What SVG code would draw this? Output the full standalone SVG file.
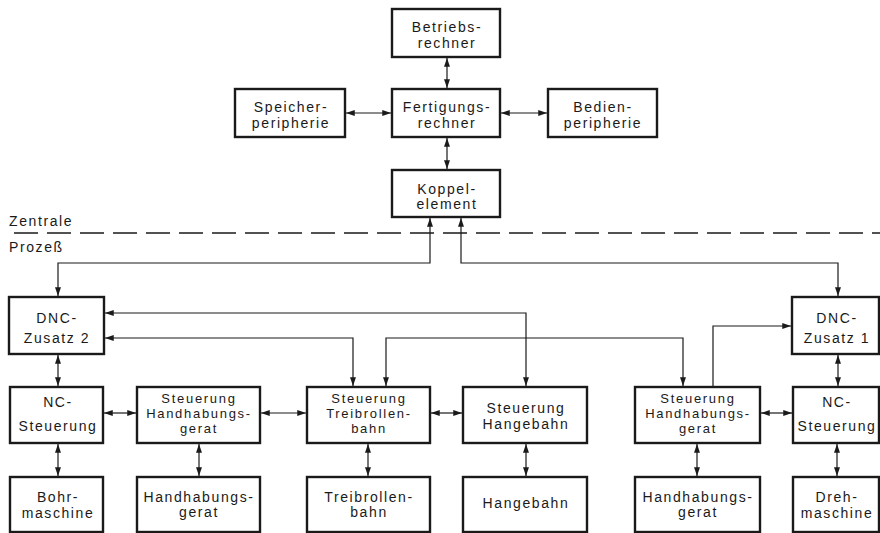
<svg xmlns="http://www.w3.org/2000/svg" width="880" height="533" viewBox="0 0 880 533">
<style>
.box{fill:#fff;stroke:#1a1a1a;stroke-width:2.4}
.t{font-family:"Liberation Sans",Arial,sans-serif;font-size:14px;letter-spacing:1.6px;fill:#1a1a1a;text-anchor:middle}
.t3{font-family:"Liberation Sans",Arial,sans-serif;font-size:13px;letter-spacing:1.7px;fill:#1a1a1a;text-anchor:middle}
.lbl{font-family:"Liberation Sans",Arial,sans-serif;font-size:14px;letter-spacing:1.6px;fill:#1a1a1a}
.c{fill:none;stroke:#1a1a1a;stroke-width:1.2}
.dash{fill:none;stroke:#1a1a1a;stroke-width:1.3;stroke-dasharray:24 9}
</style>
<defs>
<marker id="a" viewBox="0 0 10 8" refX="10" refY="4" markerWidth="9" markerHeight="7" markerUnits="userSpaceOnUse" orient="auto-start-reverse">
<path d="M0,0.6 L10,4 L0,7.4 Z" fill="#1a1a1a"/>
</marker>
</defs>
<rect width="880" height="533" fill="#fff"/>

<path class="dash" d="M14,233 H880"/>
<text class="lbl" x="9" y="226">Zentrale</text>
<text class="lbl" x="9" y="252">Prozeß</text>

<g id="connectors">
<path class="c" d="M447,58 V88" marker-start="url(#a)" marker-end="url(#a)"/>
<path class="c" d="M447,138 V169" marker-start="url(#a)" marker-end="url(#a)"/>
<path class="c" d="M346,113 H391" marker-start="url(#a)" marker-end="url(#a)"/>
<path class="c" d="M501,113 H547" marker-start="url(#a)" marker-end="url(#a)"/>
<path class="c" d="M430,218 V263 H58 V296" marker-start="url(#a)" marker-end="url(#a)"/>
<path class="c" d="M461,218 V263 H838 V296" marker-start="url(#a)" marker-end="url(#a)"/>
<path class="c" d="M105,313 H526 V386" marker-start="url(#a)" marker-end="url(#a)"/>
<path class="c" d="M105,338 H353 V386" marker-start="url(#a)" marker-end="url(#a)"/>
<path class="c" d="M386,386 V338 H683 V386" marker-start="url(#a)" marker-end="url(#a)"/>
<path class="c" d="M713,387 V326 H791" marker-end="url(#a)"/>
<path class="c" d="M58,355 V386" marker-start="url(#a)" marker-end="url(#a)"/>
<path class="c" d="M838,355 V386" marker-start="url(#a)" marker-end="url(#a)"/>
<path class="c" d="M104,413 H136" marker-start="url(#a)" marker-end="url(#a)"/>
<path class="c" d="M261,413 H306" marker-start="url(#a)" marker-end="url(#a)"/>
<path class="c" d="M431,413 H462" marker-start="url(#a)" marker-end="url(#a)"/>
<path class="c" d="M761,413 H792" marker-start="url(#a)" marker-end="url(#a)"/>
<path class="c" d="M58,444 V476" marker-start="url(#a)" marker-end="url(#a)"/>
<path class="c" d="M199,444 V476" marker-start="url(#a)" marker-end="url(#a)"/>
<path class="c" d="M368,444 V476" marker-start="url(#a)" marker-end="url(#a)"/>
<path class="c" d="M526,444 V476" marker-start="url(#a)" marker-end="url(#a)"/>
<path class="c" d="M697,444 V476" marker-start="url(#a)" marker-end="url(#a)"/>
<path class="c" d="M837,444 V476" marker-start="url(#a)" marker-end="url(#a)"/>
</g>

<g id="betriebsrechner"><rect class="box" x="392" y="9" width="108" height="48"/>
<text class="t" x="447" y="32">Betriebs-</text><text class="t" x="447" y="48">rechner</text></g>
<g id="fertigungsrechner"><rect class="box" x="392" y="89" width="108" height="48"/>
<text class="t" x="447" y="112">Fertigungs-</text><text class="t" x="447" y="128">rechner</text></g>
<g id="speicherperipherie"><rect class="box" x="235" y="89" width="110" height="48"/>
<text class="t" x="291" y="112">Speicher-</text><text class="t" x="291" y="128">peripherie</text></g>
<g id="bedienperipherie"><rect class="box" x="548" y="89" width="109" height="48"/>
<text class="t" x="603" y="112">Bedien-</text><text class="t" x="603" y="128">peripherie</text></g>
<g id="koppelelement"><rect class="box" x="392" y="170" width="108" height="47"/>
<text class="t" x="447" y="194">Koppel-</text><text class="t" x="447" y="209">element</text></g>

<g id="dnc2"><rect class="box" x="9" y="297" width="95" height="57"/>
<text class="t" x="57" y="323">DNC-</text><text class="t" x="57" y="343">Zusatz 2</text></g>
<g id="dnc1"><rect class="box" x="792" y="297" width="87" height="57"/>
<text class="t" x="837" y="323">DNC-</text><text class="t" x="837" y="343">Zusatz 1</text></g>

<g id="nc-left"><rect class="box" x="10" y="387" width="93" height="56"/>
<text class="t" x="58" y="407">NC-</text><text class="t" x="58" y="431">Steuerung</text></g>
<g id="st-handhab-left"><rect class="box" x="137" y="387" width="123" height="56"/>
<text class="t3" x="199" y="403">Steuerung</text><text class="t3" x="199" y="418">Handhabungs-</text><text class="t3" x="199" y="433">gerat</text></g>
<g id="st-treib"><rect class="box" x="307" y="387" width="123" height="56"/>
<text class="t3" x="369" y="403">Steuerung</text><text class="t3" x="369" y="418">Treibrollen-</text><text class="t3" x="369" y="433">bahn</text></g>
<g id="st-hange"><rect class="box" x="463" y="387" width="124" height="56"/>
<text class="t" x="526" y="413">Steuerung</text><text class="t" x="526" y="429">Hangebahn</text></g>
<g id="st-handhab-right"><rect class="box" x="635" y="387" width="125" height="56"/>
<text class="t3" x="698" y="403">Steuerung</text><text class="t3" x="698" y="418">Handhabungs-</text><text class="t3" x="698" y="433">gerat</text></g>
<g id="nc-right"><rect class="box" x="793" y="387" width="86" height="56"/>
<text class="t" x="837" y="407">NC-</text><text class="t" x="837" y="431">Steuerung</text></g>

<g id="bohrmaschine"><rect class="box" x="10" y="477" width="93" height="55"/>
<text class="t" x="58" y="502">Bohr-</text><text class="t" x="58" y="518">maschine</text></g>
<g id="handhab-left"><rect class="box" x="137" y="477" width="123" height="55"/>
<text class="t" x="199" y="502">Handhabungs-</text><text class="t" x="199" y="517">gerat</text></g>
<g id="treibrollenbahn"><rect class="box" x="307" y="477" width="123" height="55"/>
<text class="t" x="369" y="502">Treibrollen-</text><text class="t" x="369" y="517">bahn</text></g>
<g id="hangebahn"><rect class="box" x="463" y="477" width="124" height="55"/>
<text class="t" x="526" y="508">Hangebahn</text></g>
<g id="handhab-right"><rect class="box" x="635" y="477" width="125" height="55"/>
<text class="t" x="698" y="502">Handhabungs-</text><text class="t" x="698" y="517">gerat</text></g>
<g id="drehmaschine"><rect class="box" x="793" y="477" width="86" height="55"/>
<text class="t" x="837" y="502">Dreh-</text><text class="t" x="837" y="518">maschine</text></g>
</svg>
